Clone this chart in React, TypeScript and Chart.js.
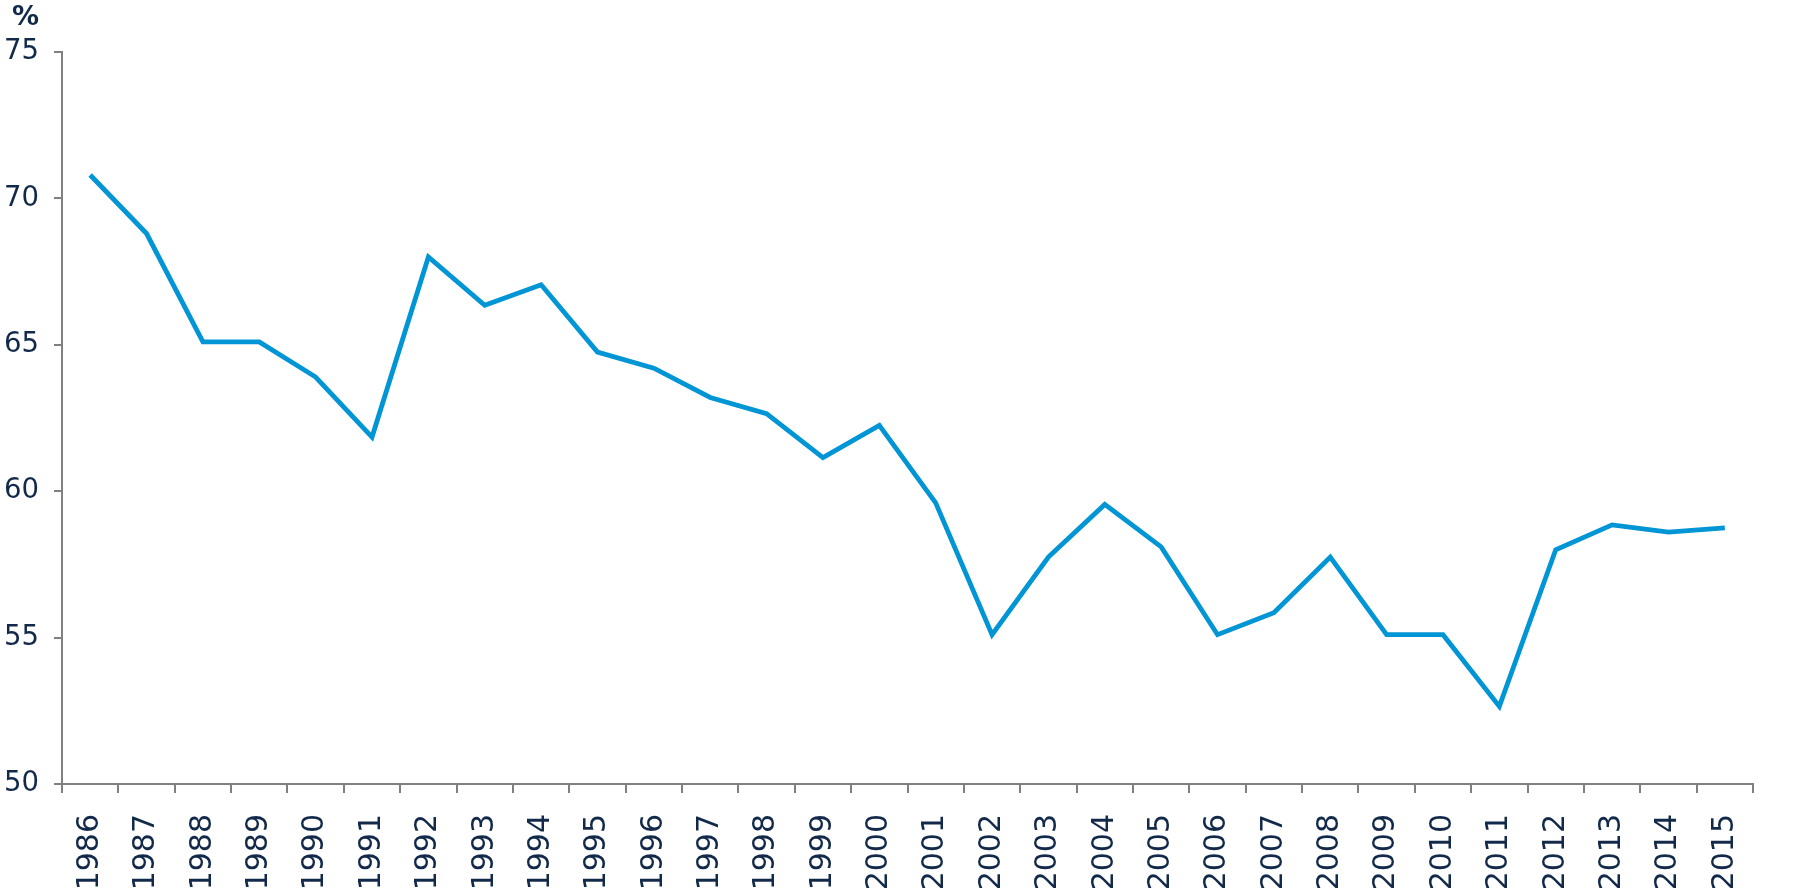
import React, { useEffect, useRef } from 'react';
import { Chart, registerables } from 'chart.js';

Chart.register(...registerables);

const years: string[] = [
  '1986', '1987', '1988', '1989', '1990', '1991', '1992', '1993', '1994', '1995',
  '1996', '1997', '1998', '1999', '2000', '2001', '2002', '2003', '2004', '2005',
  '2006', '2007', '2008', '2009', '2010', '2011', '2012', '2013', '2014', '2015',
];

const shareValues: number[] = [
  70.8, 68.8, 65.1, 65.1, 63.9, 61.85, 68.0, 66.35, 67.05, 64.75,
  64.2, 63.2, 62.65, 61.15, 62.25, 59.6, 55.1, 57.75, 59.55, 58.1,
  55.1, 55.85, 57.75, 55.1, 55.1, 52.65, 58.0, 58.85, 58.6, 58.75,
];

const yMin = 50;
const yMax = 75;
const yStep = 5;
const unitLabel = '%';

const NAVY = '#12294a';
const LINE = '#0095d5';
const AXIS = '#808080';
const FONT = '"DejaVu Sans", sans-serif';

const unitPlugin = {
  id: 'unitLabel',
  afterDraw(chart: any) {
    const ctx = chart.ctx;
    const ys = chart.scales.y;
    ctx.save();
    ctx.font = `bold 27px ${FONT}`;
    ctx.fillStyle = NAVY;
    ctx.textAlign = 'right';
    ctx.textBaseline = 'middle';
    ctx.fillText(unitLabel, ys.right - 8 - 15, 18);
    ctx.restore();
  },
};

export default function App() {
  const canvasRef = useRef<HTMLCanvasElement | null>(null);

  useEffect(() => {
    document.body.style.margin = '0';
    const canvas = canvasRef.current;
    if (!canvas) return;
    const chart = new Chart(canvas, {
      type: 'line',
      data: {
        labels: years,
        datasets: [
          {
            data: shareValues,
            borderColor: LINE,
            borderWidth: 4.8,
            pointRadius: 0,
            pointHoverRadius: 0,
            tension: 0,
            fill: false,
          },
        ],
      },
      plugins: [unitPlugin],
      options: {
        animation: false,
        responsive: false,
        maintainAspectRatio: false,
        layout: { padding: { top: 52, right: 47, bottom: 0, left: 0 } },
        plugins: {
          legend: { display: false },
          tooltip: { enabled: false },
          title: { display: false },
        },
        scales: {
          x: {
            offset: true,
            afterFit: (scale: any) => {
              scale.height = 106;
            },
            grid: {
              offset: true,
              drawOnChartArea: false,
              drawTicks: true,
              tickLength: 9,
              color: AXIS,
              lineWidth: 2,
            },
            border: { display: true, color: AXIS, width: 2 },
            ticks: {
              autoSkip: false,
              maxRotation: 90,
              minRotation: 90,
              padding: 21,
              color: NAVY,
              font: { family: FONT, size: 30 },
            },
          },
          y: {
            min: yMin,
            max: yMax,
            afterFit: (scale: any) => {
              scale.width = 62;
            },
            grid: {
              drawOnChartArea: false,
              drawTicks: true,
              tickLength: 8,
              color: AXIS,
              lineWidth: 2,
            },
            border: { display: true, color: AXIS, width: 2 },
            ticks: {
              stepSize: yStep,
              padding: 15,
              color: NAVY,
              font: { family: FONT, size: 27.5 },
            },
          },
        },
      },
    });
    return () => chart.destroy();
  }, []);

  return (
    <div style={{ width: 1800, height: 890, background: '#fff' }}>
      <canvas ref={canvasRef} width={1800} height={890} style={{ display: 'block' }} />
    </div>
  );
}
